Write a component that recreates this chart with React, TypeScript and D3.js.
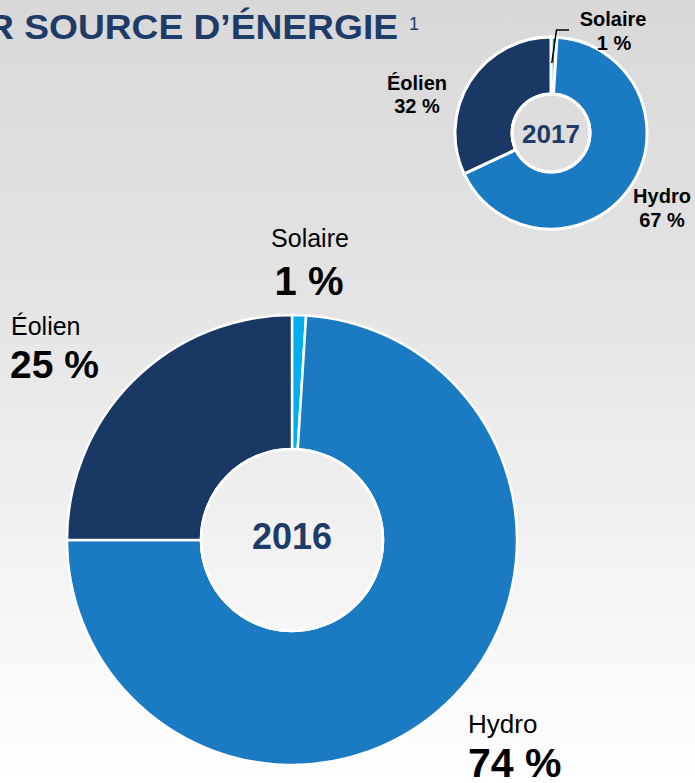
import React from "react";
import * as d3 from "d3";

const categories = ["Solaire", "Hydro", "Éolien"];
const values2016 = [1, 74, 25];
const values2017 = [1, 67, 32];
const colors = ["#00aeef", "#1b7bc2", "#1a3864"];
const titleText = "R SOURCE D’ÉNERGIE";
const titleSup = "1";
const yearBig = "2016";
const yearSmall = "2017";

const W = 695;
const H = 783;
const FONT = "'Liberation Sans', Arial, Helvetica, sans-serif";

function Donut({ values, cx, cy, rOuter, rInner, strokeW }: any) {
  const pie = d3.pie<number>().sort(null).value((d) => d);
  const arcs = pie(values);
  const arc = d3.arc<d3.PieArcDatum<number>>().innerRadius(rInner).outerRadius(rOuter);
  return (
    <g transform={`translate(${cx},${cy})`}>
      {arcs.map((a, i) => (
        <path key={i} d={arc(a) || ""} fill={colors[i]} stroke="#ffffff" strokeWidth={strokeW} strokeLinejoin="miter" />
      ))}
      <circle r={rInner} fill="none" stroke="#ffffff" strokeWidth={strokeW} />
    </g>
  );
}

export default function App() {
  const fmt = (v: number) => `${v} %`;
  return (
    <svg width={W} height={H} style={{ position: "absolute", left: 0, top: 0 }} fontFamily={FONT}>
      <defs>
        <linearGradient id="bg" x1="0" y1="0" x2="0" y2="1">
          <stop offset="0" stopColor="#d8d8d8" />
          <stop offset="0.35" stopColor="#e3e3e3" />
          <stop offset="1" stopColor="#ffffff" />
        </linearGradient>
      </defs>
      <rect x={0} y={0} width={W} height={H} fill="url(#bg)" />

      {/* title */}
      <text x={-13} y={39} fontSize={35} fontWeight="bold" fill="#1f3b68" textLength={411} lengthAdjust="spacingAndGlyphs">
        {titleText}
      </text>
      <text x={409} y={30} fontSize={18} fill="#1f3b68">{titleSup}</text>

      {/* big donut 2016 */}
      <Donut values={values2016} cx={292} cy={540} rOuter={225} rInner={91} strokeW={2.5} />
      <text x={292} y={549} textAnchor="middle" fontSize={36} fontWeight="bold" fill="#1f3b68">{yearBig}</text>

      <text x={310} y={247} textAnchor="middle" fontSize={25} fill="#000">{categories[0]}</text>
      <text x={309} y={295} textAnchor="middle" fontSize={40} fontWeight="bold" fill="#000">{fmt(values2016[0])}</text>

      <text x={11} y={335} fontSize={25} fill="#000">{categories[2]}</text>
      <text x={10} y={378} fontSize={39} fontWeight="bold" fill="#000">{fmt(values2016[2])}</text>

      <text x={468} y={733} fontSize={26} fill="#000">{categories[1]}</text>
      <text x={468} y={777} fontSize={41} fontWeight="bold" fill="#000">{fmt(values2016[1])}</text>

      {/* small donut 2017 */}
      <Donut values={values2017} cx={551} cy={133} rOuter={96} rInner={39} strokeW={3} />
      <text x={551} y={143} textAnchor="middle" fontSize={26} fontWeight="bold" fill="#1f3b68">{yearSmall}</text>

      <polyline points="551.8,63 556.5,30 569,30" fill="none" stroke="#000" strokeWidth={1.5} />
      <text x={613} y={26} textAnchor="middle" fontSize={20} fontWeight="bold" fill="#000">{categories[0]}</text>
      <text x={614} y={50} textAnchor="middle" fontSize={20} fontWeight="bold" fill="#000">{fmt(values2017[0])}</text>

      <text x={417} y={90} textAnchor="middle" fontSize={20} fontWeight="bold" fill="#000">{categories[2]}</text>
      <text x={417} y={113} textAnchor="middle" fontSize={20} fontWeight="bold" fill="#000">{fmt(values2017[2])}</text>

      <text x={662} y={203} textAnchor="middle" fontSize={20} fontWeight="bold" fill="#000">{categories[1]}</text>
      <text x={662} y={227} textAnchor="middle" fontSize={20} fontWeight="bold" fill="#000">{fmt(values2017[1])}</text>
    </svg>
  );
}
